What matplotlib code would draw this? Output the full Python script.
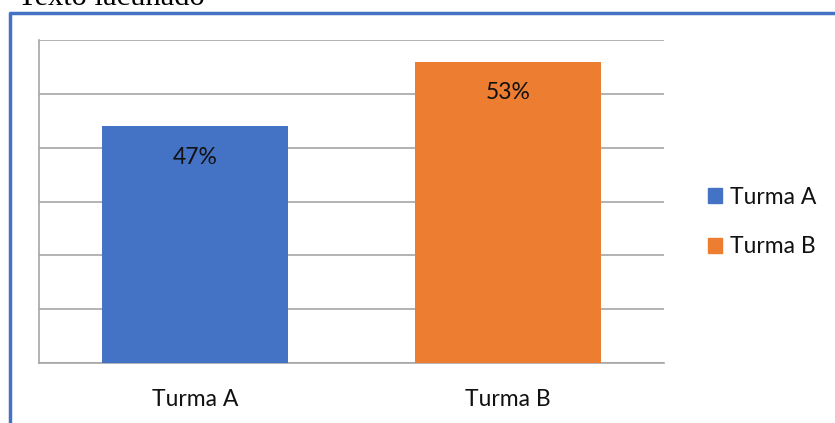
import matplotlib
matplotlib.use("Agg")
import matplotlib.pyplot as plt
from matplotlib.lines import Line2D

categories = ["Turma A", "Turma B"]
values = [47, 53]
colors = ["#4472C4", "#ED7D31"]
y_min, y_max, y_step = 25, 55, 5

W, H = 835, 423
fig = plt.figure(figsize=(W / 100, H / 100), dpi=100)
plt.rcParams["font.family"] = ["Lato", "DejaVu Sans"]
FS = 16.5

# frame around the chart box
fig.add_artist(Line2D([10 / W, 10 / W], [0, 1 - 12 / H], color="#4472C4", lw=2.5,
                      transform=fig.transFigure, solid_capstyle="butt"))
fig.add_artist(Line2D([9 / W, 1], [1 - 13 / H, 1 - 13 / H], color="#4472C4", lw=2.5,
                      transform=fig.transFigure, solid_capstyle="butt"))

# heading, partly clipped at the top edge
fig.text(18 / W, 1 - 5 / H, "Texto lacunado", family="Liberation Serif",
         fontsize=22, va="baseline", ha="left", color="black")

ax = fig.add_axes([39 / W, 1 - 363 / H, (664 - 39) / W, (363 - 40) / H])
x = list(range(len(categories)))
bars = ax.bar(x, [v - y_min for v in values], bottom=y_min, width=0.595,
              color=colors, zorder=3)
for xi, v in zip(x, values):
    ax.text(xi, v - 2.9, f"{v}%", ha="center", va="center", fontsize=FS,
            color="#111111", zorder=4)

ax.set_xlim(-0.5, 1.5)
ax.set_ylim(y_min, y_max)
ax.set_yticks(range(y_min, y_max + 1, y_step))
ax.set_yticklabels([])
ax.tick_params(axis="y", length=0)
ax.tick_params(axis="x", length=0, pad=19, labelsize=FS, labelcolor="#111111")
ax.set_xticks(x)
ax.set_xticklabels(categories)
ax.grid(axis="y", color="#a6a6a6", lw=1.2, zorder=0)
for s in ["top", "right"]:
    ax.spines[s].set_visible(False)
for s in ["left", "bottom"]:
    ax.spines[s].set_color("#a6a6a6")
    ax.spines[s].set_linewidth(1.2)

handles = [plt.Rectangle((0, 0), 1, 1, color=c) for c in colors]
fig.legend(handles, categories, loc="center left",
           bbox_to_anchor=(687 / W, 1 - 222 / H), frameon=False,
           fontsize=FS, handlelength=0.62, handleheight=0.62,
           handletextpad=0.35, labelspacing=1.25, labelcolor="#111111")

fig.savefig("out.png", dpi=100)
